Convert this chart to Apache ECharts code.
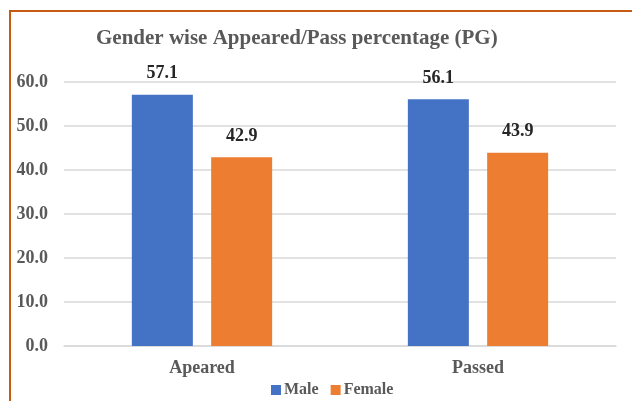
<!DOCTYPE html>
<html>
<head>
<meta charset="utf-8">
<script src="https://cdn.jsdelivr.net/npm/echarts@6/dist/echarts.min.js"></script>
<style>
  html, body { margin: 0; padding: 0; background: #fff; }
  #chart { width: 632px; height: 401px; position: relative; }
  #frame {
    position: absolute; left: 9px; top: 10px; right: 0; bottom: 0;
    border-top: 2px solid #c55a11; border-left: 2px solid #c55a11;
    pointer-events: none;
  }
</style>
</head>
<body>
<div id="chart"></div>
<div id="frame"></div>
<script>
const categories = ['Apeared', 'Passed']
const maleValues = [57.1, 56.1]
const femaleValues = [42.9, 43.9]
const yTicks = { min: 0, max: 60, interval: 10 }

const chart = echarts.init(document.getElementById('chart'))
const font = '"Liberation Serif", "Times New Roman", serif'

const labelStyle = {
  show: true,
  position: 'top',
  distance: 12,
  fontFamily: font,
  fontWeight: 'bold',
  fontSize: 18,
  color: '#262626',
  formatter: p => p.value.toFixed(1)
}

chart.setOption({
  animation: false,
  title: {
    text: 'Gender wise Appeared/Pass percentage (PG)',
    left: 91,
    top: 23,
    textStyle: { fontFamily: font, fontWeight: 'bold', fontSize: 21, color: '#595959' }
  },
  legend: {
    top: 377,
    left: 266,
    icon: 'rect',
    itemWidth: 10,
    itemHeight: 10,
    itemGap: 12,
    textStyle: { fontFamily: font, fontWeight: 'bold', fontSize: 16, color: '#595959', padding: [0, 0, 0, -2] },
    data: ['Male', 'Female']
  },
  color: ['#4472c4', '#ed7d31'],
  grid: { left: 64, right: 16, top: 82, bottom: 55 },
  xAxis: {
    type: 'category',
    data: categories,
    axisLine: { lineStyle: { color: '#d9d9d9', width: 1.5 } },
    axisTick: { show: false },
    axisLabel: { fontFamily: font, fontWeight: 'bold', fontSize: 18, color: '#595959', margin: 13 }
  },
  yAxis: {
    type: 'value',
    min: yTicks.min,
    max: yTicks.max,
    interval: yTicks.interval,
    axisLine: { show: false },
    axisTick: { show: false },
    splitLine: { lineStyle: { color: '#d9d9d9', width: 1.5 } },
    axisLabel: {
      fontFamily: font, fontWeight: 'bold', fontSize: 18, color: '#595959', margin: 16,
      formatter: v => v.toFixed(1)
    }
  },
  series: [
    { name: 'Male', type: 'bar', data: maleValues, barWidth: 61, barGap: '30%', label: labelStyle },
    { name: 'Female', type: 'bar', data: femaleValues, barWidth: 61, label: labelStyle }
  ]
})
</script>
</body>
</html>
